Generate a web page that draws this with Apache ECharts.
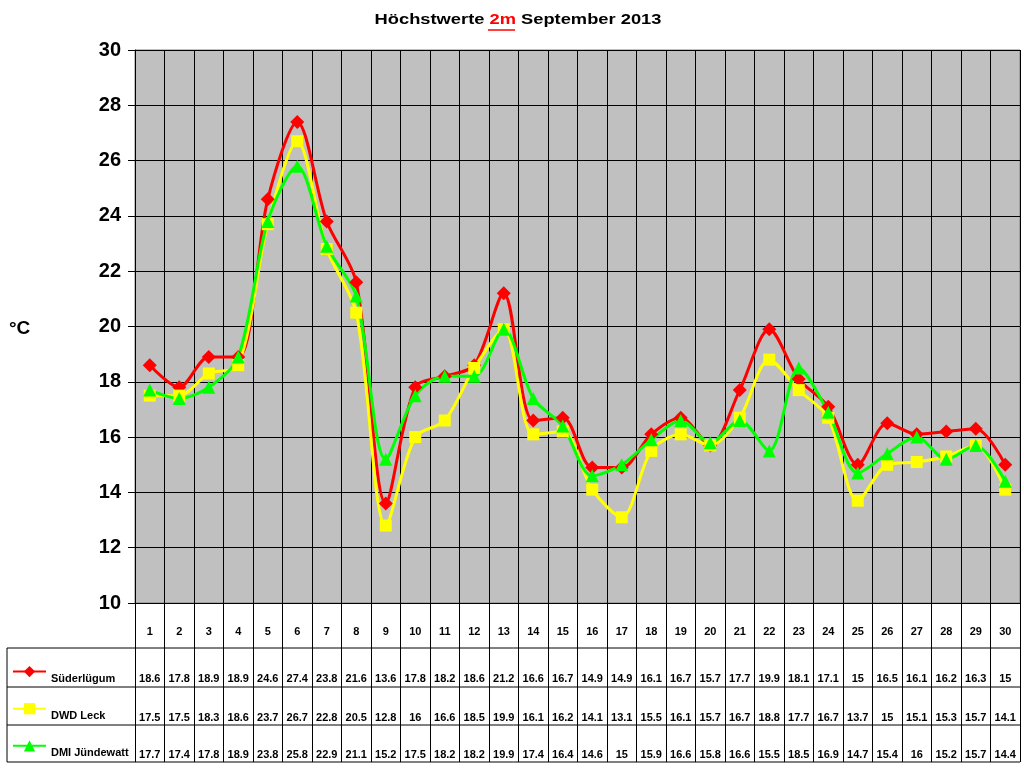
<!DOCTYPE html>
<html>
<head>
<meta charset="utf-8">
<script src="https://cdn.jsdelivr.net/npm/echarts@6/dist/echarts.min.js"></script>
<style>
  html, body { margin: 0; padding: 0; background: #fff; }
  #chart { width: 1024px; height: 768px; }
</style>
</head>
<body>
<div id="chart"></div>
<script>
var days = ['1','2','3','4','5','6','7','8','9','10','11','12','13','14','15','16','17','18','19','20','21','22','23','24','25','26','27','28','29','30'];
var suederluegum = [18.6, 17.8, 18.9, 18.9, 24.6, 27.4, 23.8, 21.6, 13.6, 17.8, 18.2, 18.6, 21.2, 16.6, 16.7, 14.9, 14.9, 16.1, 16.7, 15.7, 17.7, 19.9, 18.1, 17.1, 15, 16.5, 16.1, 16.2, 16.3, 15];
var dwdLeck = [17.5, 17.5, 18.3, 18.6, 23.7, 26.7, 22.8, 20.5, 12.8, 16, 16.6, 18.5, 19.9, 16.1, 16.2, 14.1, 13.1, 15.5, 16.1, 15.7, 16.7, 18.8, 17.7, 16.7, 13.7, 15, 15.1, 15.3, 15.7, 14.1];
var dmiJuendewatt = [17.7, 17.4, 17.8, 18.9, 23.8, 25.8, 22.9, 21.1, 15.2, 17.5, 18.2, 18.2, 19.9, 17.4, 16.4, 14.6, 15, 15.9, 16.6, 15.8, 16.6, 15.5, 18.5, 16.9, 14.7, 15.4, 16, 15.2, 15.7, 14.4];
var seriesNames = ['Süderlügum', 'DWD Leck', 'DMI Jündewatt'];

var font = 'Liberation Sans, Arial, sans-serif';
var chart = echarts.init(document.getElementById('chart'));

// table row under the plot, one hidden axis per row
function tableAxis(values, margin) {
    return {
        type: 'category',
        data: days,
        gridIndex: 0,
        position: 'bottom',
        axisLine: { show: false, onZero: false },
        axisTick: { show: false },
        splitLine: { show: false },
        axisLabel: {
            interval: 0,
            margin: margin,
            verticalAlign: 'middle',
            color: '#000',
            fontFamily: font,
            fontWeight: 'bold',
            fontSize: 11,
            formatter: function (v, i) { return values ? String(values[i]) : v; }
        }
    };
}

function hline(y) {
    return { type: 'line', shape: { x1: 7, y1: y, x2: 1020, y2: y }, style: { stroke: '#000', lineWidth: 1 } };
}

var option = {
    animation: false,
    backgroundColor: '#fff',
    title: {
        text: '°C',
        left: 4,
        top: 314,
        textStyle: { fontFamily: font, fontWeight: 'bold', fontSize: 19, color: '#000' }
    },
    legend: {
        orient: 'vertical',
        left: 12,
        top: 666,
        padding: 0,
        itemWidth: 33,
        itemHeight: 14,
        itemGap: 19,
        data: seriesNames,
        formatter: function (name) { return '{t|' + name + '}'; },
        textStyle: {
            fontFamily: font, fontWeight: 'bold', fontSize: 11, color: '#000',
            rich: { t: { fontFamily: font, fontWeight: 'bold', fontSize: 11, color: '#000', padding: [14, 0, 0, 0] } }
        }
    },
    grid: {
        left: 135, right: 4, top: 50, bottom: 165,
        show: true, backgroundColor: '#c0c0c0', borderColor: '#808080', borderWidth: 1
    },
    xAxis: [{
        type: 'category',
        data: days,
        boundaryGap: true,
        axisLine: { onZero: false, lineStyle: { color: '#000', width: 1 } },
        axisTick: { show: true, length: 159, lineStyle: { color: '#000', width: 1 } },
        axisLabel: { show: false },
        splitLine: { show: true, lineStyle: { color: '#000', width: 1 } }
    },
        tableAxis(null, 29),
        tableAxis(suederluegum, 76),
        tableAxis(dwdLeck, 115),
        tableAxis(dmiJuendewatt, 152)
    ],
    yAxis: {
        type: 'value',
        min: 10, max: 30, interval: 2,
        axisLine: { show: true, lineStyle: { color: '#000', width: 1 } },
        axisTick: { show: true, length: 7, lineStyle: { color: '#000' } },
        axisLabel: { margin: 14, color: '#000', fontFamily: font, fontWeight: 'bold', fontSize: 20 },
        splitLine: { show: true, lineStyle: { color: '#000', width: 1 } }
    },
    series: [{
        name: seriesNames[0], type: 'line', data: suederluegum, smooth: 0.3,
        symbol: 'diamond', symbolSize: 14, showAllSymbol: true,
        lineStyle: { color: '#ff0000', width: 3 }, itemStyle: { color: '#ff0000' }
    }, {
        name: seriesNames[1], type: 'line', data: dwdLeck, smooth: 0.3,
        symbol: 'rect', symbolSize: 12, showAllSymbol: true,
        lineStyle: { color: '#ffff00', width: 3 }, itemStyle: { color: '#ffff00' }
    }, {
        name: seriesNames[2], type: 'line', data: dmiJuendewatt, smooth: 0.3,
        symbol: 'triangle', symbolSize: 13, showAllSymbol: true,
        lineStyle: { color: '#00ff00', width: 3 }, itemStyle: { color: '#00ff00' }
    }],
    graphic: [
        {
            type: 'text', x: 518, y: 20, scaleX: 1.22,
            style: {
                text: 'Höchstwerte {r|2m} September 2013',
                font: 'bold 15px ' + font, fill: '#000',
                align: 'center', verticalAlign: 'middle',
                rich: { r: { font: 'bold 15px ' + font, fill: '#ff0000' } }
            }
        },
        { type: 'line', shape: { x1: 488, y1: 30, x2: 515, y2: 30 }, style: { stroke: '#ff0000', lineWidth: 1.5 } },
        hline(648), hline(687), hline(725), hline(762),
        { type: 'line', shape: { x1: 7, y1: 648, x2: 7, y2: 762 }, style: { stroke: '#000', lineWidth: 1 } }
    ]
};

chart.setOption(option);
</script>
</body>
</html>
